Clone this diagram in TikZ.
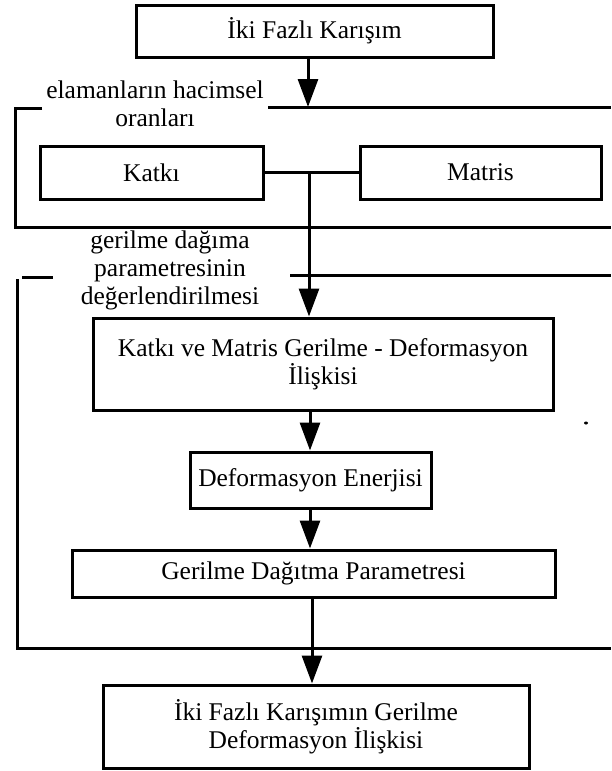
\documentclass[tikz,border=0pt]{standalone}
\usepackage{fontspec}
\setmainfont{Liberation Serif}
\usetikzlibrary{arrows.meta}
\begin{document}
\begin{tikzpicture}[x=1pt,y=-1pt,
  box/.style={draw,line width=3pt,inner sep=0pt,font=\fontsize{25.5}{28}\selectfont,align=center},
  lbl/.style={font=\fontsize{25.5}{28}\selectfont,align=center,inner sep=0pt},
  ln/.style={line width=3pt},
  arr/.style={line width=3pt,-{Triangle[length=28pt,width=20pt]}}]
\useasboundingbox (0,0) rectangle (611,771);

% boxes
\node[box,minimum width=357pt,minimum height=52pt] (b1) at (314.5,31) {İki Fazlı Karışım};
\node[box,minimum width=223pt,minimum height=53pt] (katki) at (151.5,172.5) {Katkı};
\node[box,minimum width=241pt,minimum height=53pt] (matris) at (480.5,172.5) {Matris};
\node[box,minimum width=460pt,minimum height=92pt] (b3) at (323,364) {Katkı ve Matris Gerilme - Deformasyon\\İlişkisi};
\node[box,minimum width=241pt,minimum height=56pt] (b4) at (310.5,480) {Deformasyon Enerjisi};
\node[box,minimum width=483pt,minimum height=47pt] (b5) at (313.5,573.5) {Gerilme Dağıtma Parametresi};
\node[box,minimum width=426pt,minimum height=83pt] (b6) at (316,726.5) {İki Fazlı Karışımın Gerilme\\Deformasyon İlişkisi};

% labels
\node[lbl] (l1) at (155,104) {elamanların hacimsel\\oranları};
\node[lbl] (l2) at (170,270) {gerilme dağıma\\parametresinin\\değerlendirilmesi};

% helper coordinates
\coordinate (ax1) at (308,0);
\coordinate (ax2) at (309,0);
\coordinate (ax3) at (310,0);
\coordinate (ax4) at (312,0);
\coordinate (t1) at (308,107);
\coordinate (r1a) at (268,107);
\coordinate (r1b) at (611,107);
\coordinate (g1a) at (42,108);
\coordinate (g1b) at (15,108);
\coordinate (g1c) at (15,227);
\coordinate (g1d) at (611,227);
\coordinate (r2a) at (290,275);
\coordinate (r2b) at (611,275);
\coordinate (g2a) at (22,277);
\coordinate (g2b) at (53,277);
\coordinate (g2c) at (17,279);
\coordinate (g2d) at (17,648);
\coordinate (g2e) at (611,648);
\coordinate (j2) at (309,172.5);

% group frames
\draw[ln] (r1a) -- (r1b);
\draw[ln] (g1a) -- (g1b) -- (g1c) -- (g1d);
\draw[ln] (r2a) -- (r2b);
\draw[ln] (g2a) -- (g2b);
\draw[ln] (g2c) -- (g2d) -- (g2e);

% connectors
\draw[arr] (b1.south -| ax1) -- (t1);
\draw[ln] (katki.east) -- (matris.west);
\draw[arr] (j2) -- (b3.north -| ax2);
\draw[arr] (b3.south -| ax3) -- (b4.north -| ax3);
\draw[arr] (b4.south -| ax3) -- (b5.north -| ax3);
\draw[arr] (b5.south -| ax4) -- (b6.north -| ax4);

% stray speck
\fill (586,423) ellipse (2pt and 1.5pt);
\end{tikzpicture}
\end{document}
